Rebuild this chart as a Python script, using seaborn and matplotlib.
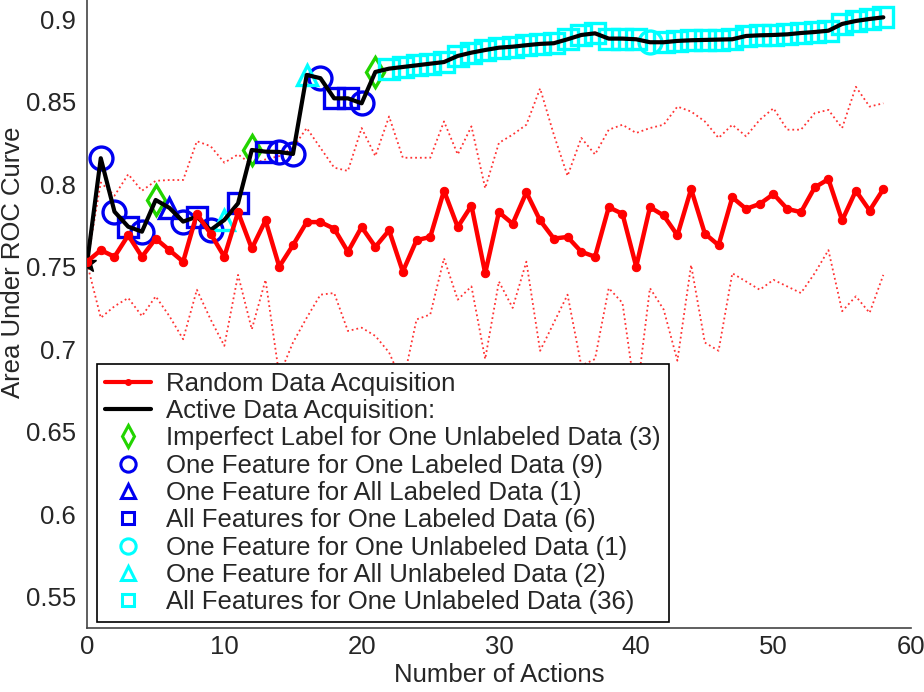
import matplotlib
matplotlib.use("Agg")
import numpy as np
import pandas as pd
import seaborn as sns
import matplotlib.pyplot as plt
from matplotlib.lines import Line2D

# number of actions 0..58
actions = list(range(59))

# random data acquisition (mean and dotted band)
random_auc = [0.753, 0.760, 0.756, 0.769, 0.756, 0.767, 0.760, 0.753, 0.782, 0.770,
              0.756, 0.783, 0.761, 0.778, 0.750, 0.763, 0.777, 0.777, 0.773, 0.759,
              0.774, 0.762, 0.772, 0.747, 0.766, 0.768, 0.796, 0.774, 0.787, 0.746,
              0.783, 0.776, 0.795, 0.778, 0.767, 0.768, 0.759, 0.756, 0.786, 0.782,
              0.750, 0.786, 0.781, 0.769, 0.797, 0.770, 0.763, 0.792, 0.785, 0.788,
              0.794, 0.785, 0.783, 0.798, 0.803, 0.778, 0.796, 0.784, 0.797]
random_upper = [0.752, 0.801, 0.793, 0.806, 0.796, 0.802, 0.8025, 0.8025, 0.826, 0.823,
                0.813, 0.818, 0.812, 0.815, 0.817, 0.822, 0.834, 0.822, 0.810, 0.808,
                0.834, 0.817, 0.841, 0.816, 0.816, 0.816, 0.838, 0.818, 0.835, 0.7975,
                0.825, 0.830, 0.836, 0.858, 0.830, 0.805, 0.828, 0.818, 0.833, 0.836,
                0.831, 0.834, 0.836, 0.847, 0.844, 0.838, 0.828, 0.836, 0.829, 0.839,
                0.846, 0.833, 0.833, 0.843, 0.845, 0.834, 0.859, 0.847, 0.849]
random_lower = [0.752, 0.719, 0.726, 0.731, 0.720, 0.732, 0.720, 0.706, 0.736, 0.718,
                0.702, 0.745, 0.712, 0.742, 0.684, 0.704, 0.719, 0.733, 0.734, 0.711,
                0.713, 0.708, 0.698, 0.679, 0.718, 0.721, 0.755, 0.730, 0.738, 0.694,
                0.741, 0.725, 0.753, 0.699, 0.716, 0.733, 0.690, 0.694, 0.737, 0.728,
                0.669, 0.737, 0.724, 0.693, 0.751, 0.704, 0.699, 0.746, 0.741, 0.736,
                0.742, 0.738, 0.734, 0.746, 0.760, 0.723, 0.732, 0.722, 0.745]

# active data acquisition
active_auc = [0.752, 0.8157, 0.7833, 0.7742, 0.7712, 0.7904, 0.7856, 0.7773, 0.7803, 0.7722,
              0.7783, 0.7884, 0.8207, 0.8197, 0.8195, 0.8183, 0.8662, 0.8642, 0.852, 0.852,
              0.849, 0.868, 0.870, 0.871, 0.872, 0.873, 0.874, 0.8777, 0.8797, 0.8813,
              0.8827, 0.8833, 0.8842, 0.885, 0.8854, 0.8878, 0.8904, 0.8914, 0.8882, 0.8882,
              0.8878, 0.886, 0.886, 0.8868, 0.8872, 0.8874, 0.8876, 0.8878, 0.8898, 0.8902,
              0.8904, 0.8908, 0.8916, 0.8922, 0.893, 0.8971, 0.8989, 0.9001, 0.9011]

# type of each action (steps 1..58)
action_type = ['F1L', 'F1L', 'A1L', 'F1L', 'IL', 'FAL', 'F1L', 'A1L', 'F1L', 'FAU',
               'A1L', 'IL', 'A1L', 'F1L', 'F1L', 'FAU', 'F1L', 'A1L', 'A1L', 'F1L',
               'IL', 'A1U', 'A1U', 'A1U', 'A1U', 'A1U', 'A1U', 'A1U', 'A1U', 'A1U',
               'A1U', 'A1U', 'A1U', 'A1U', 'A1U', 'A1U', 'A1U', 'A1U', 'A1U', 'A1U',
               'F1U', 'A1U', 'A1U', 'A1U', 'A1U', 'A1U', 'A1U', 'A1U', 'A1U', 'A1U',
               'A1U', 'A1U', 'A1U', 'A1U', 'A1U', 'A1U', 'A1U', 'A1U']

type_codes = ['IL', 'F1L', 'FAL', 'A1L', 'F1U', 'FAU', 'A1U']
type_labels = ['Imperfect Label for One Unlabeled Data (3)',
               'One Feature for One Labeled Data (9)',
               'One Feature for All Labeled Data (1)',
               'All Features for One Labeled Data (6)',
               'One Feature for One Unlabeled Data (1)',
               'One Feature for All Unlabeled Data (2)',
               'All Features for One Unlabeled Data (36)']

GREEN, BLUE, CYAN = '#22d400', '#0000f0', '#00ffff'
styles = {'IL': ('d', GREEN, 15), 'F1L': ('o', BLUE, 16.5), 'FAL': ('^', BLUE, 15),
          'A1L': ('s', BLUE, 14), 'F1U': ('o', CYAN, 16.5), 'FAU': ('^', CYAN, 15),
          'A1U': ('s', CYAN, 14)}
legend_ms = {'d': 11, 'o': 11, '^': 10, 's': 9}

sns.set_style("white")
plt.rcParams['font.family'] = ['Liberation Sans', 'DejaVu Sans']

df = pd.DataFrame({'actions': actions, 'random': random_auc, 'upper': random_upper,
                   'lower': random_lower, 'active': active_auc})
steps = pd.DataFrame({'actions': actions[1:], 'active': active_auc[1:], 'type': action_type})

fig = plt.figure(figsize=(9.24, 6.92), dpi=100)
ax = fig.add_axes([0.0942, 0.0925, 0.8915, 0.9075])

for col in ['upper', 'lower']:
    sns.lineplot(data=df, x='actions', y=col, color='red', lw=1.3, linestyle=':',
                 alpha=0.8, ax=ax, zorder=1)

for code in type_codes:
    sub = steps[steps['type'] == code]
    m, c, ms = styles[code]
    ax.plot(sub['actions'], sub['active'], ls='none', marker=m, ms=ms, mfc='none',
            mec=c, mew=2.4, zorder=2)

sns.lineplot(data=df, x='actions', y='active', color='black', lw=3, ax=ax, zorder=3)
ax.plot(actions[0], active_auc[0], marker='*', color='black', ms=14, zorder=3)
sns.lineplot(data=df, x='actions', y='random', color='red', lw=3.2, marker='o', ms=6,
             mec='red', ax=ax, zorder=4)

ax.set_xlim(0, 60)
ax.set_ylim(0.531, 0.9116)
ax.set_xticks([0, 10, 20, 30, 40, 50, 60])
ax.set_yticks([0.55, 0.6, 0.65, 0.7, 0.75, 0.8, 0.85, 0.9])
ax.set_yticklabels(['0.55', '0.6', '0.65', '0.7', '0.75', '0.8', '0.85', '0.9'])
ax.tick_params(direction='in', length=6, width=1, labelsize=18.5, color='#333333')
ax.tick_params(axis='y', pad=8)
ax.tick_params(axis='x', pad=5)
for s in ['top', 'right']:
    ax.spines[s].set_visible(False)
for s in ['left', 'bottom']:
    ax.spines[s].set_color('#444444')
    ax.spines[s].set_linewidth(1.2)

ax.set_xlabel('Number of Actions', fontsize=18.5)
ax.set_ylabel('Area Under ROC Curve', fontsize=18.5)
ax.xaxis.set_label_coords(0.5, -0.056)
ax.yaxis.set_label_coords(-0.075, 0.583)

handles = [Line2D([], [], color='red', lw=3, marker='o', ms=4),
           Line2D([], [], color='black', lw=3)]
for code in type_codes:
    m, c, ms = styles[code]
    handles.append(Line2D([], [], ls='none', marker=m, ms=legend_ms[m], mfc='none',
                          mec=c, mew=2.2))
labels = ['Random Data Acquisition', 'Active Data Acquisition:'] + type_labels
leg = ax.legend(handles, labels, loc='lower left', bbox_to_anchor=(0.012, 0.0096),
                borderaxespad=0, fontsize=18.5, labelspacing=0.13, handlelength=1.8,
                handletextpad=0.6, borderpad=0.3, fancybox=False, framealpha=1,
                edgecolor='black')
leg.get_frame().set_linewidth(1.2)
leg.set_zorder(10)

fig.savefig('out.png', dpi=100)
